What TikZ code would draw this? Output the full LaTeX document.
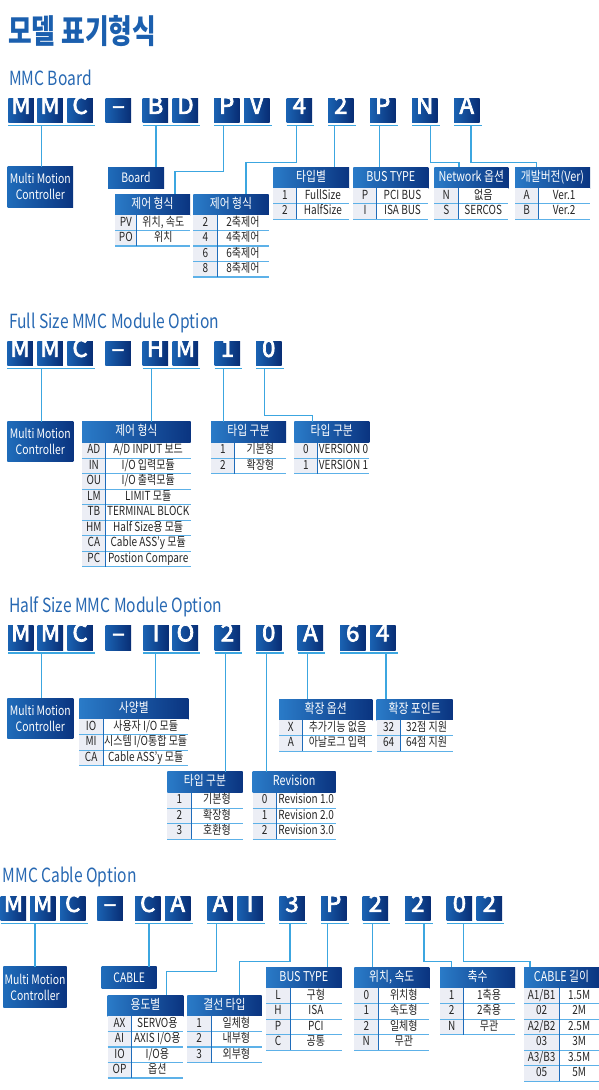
\documentclass[tikz,border=0pt]{standalone}
\usepackage{fontspec}
\setmainfont{Noto Sans CJK KR}[FakeStretch=0.8]
\newfontfamily\letterfont{Noto Sans CJK KR}[FakeBold=3]
\newfontfamily\titlefont{Noto Sans CJK KR}[FakeStretch=0.78]
\newfontfamily\secfont{Noto Sans CJK KR}[FakeStretch=0.8]
\usetikzlibrary{calc}

\begin{document}
\begin{tikzpicture}[
    x=1pt, y=-1pt,
    letter/.style={anchor=north west, minimum width=25.5pt, minimum height=24.5pt,
        inner sep=0pt, outer sep=0pt, left color=letterlight, right color=letterdark,
        text=white, font=\letterfont\fontsize{24}{24}\selectfont,
        text height=0.72em, text depth=0pt},
    unit/.style={anchor=north west, inner sep=0pt, outer sep=0pt, align=center,
        left color=boxlight, right color=boxdark, text=white,
        font=\fontsize{13}{16}\selectfont},
    thead/.style={anchor=north west, minimum height=21pt, inner sep=0pt, outer sep=0pt,
        left color=headlight, right color=boxdark, text=white,
        font=\fontsize{13.5}{14}\selectfont, text height=0.8em, text depth=0.1em},
    tkey/.style={anchor=north west, minimum height=15.5pt, inner sep=0pt, outer sep=0pt,
        fill=keygray, text=inkgray, font=\fontsize{12.5}{13}\selectfont,
        text height=0.78em, text depth=0.1em},
    tval/.style={tkey, fill=white},
    sectitle/.style={anchor=base west, inner sep=0pt, text=headblue,
        font=\secfont\fontsize{19.5}{21}\selectfont},
    underline/.style={linkblue, line width=1.4pt},
    link/.style={linkblue, line width=1.4pt},
    rowline/.style={rowblue, line width=1.3pt},
    colline/.style={boxlight, line width=0.9pt}
]

% -------------------------------------------------
% Palette
% -------------------------------------------------
\definecolor{boxlight}{HTML}{1F6CBA}
\definecolor{headlight}{HTML}{2A7BC8}
\definecolor{boxdark}{HTML}{0A3480}
\definecolor{letterlight}{HTML}{1A62B2}
\definecolor{letterdark}{HTML}{082D74}
\definecolor{linkblue}{HTML}{3CA6E0}
\definecolor{rowblue}{HTML}{5DB1E8}
\definecolor{keygray}{HTML}{ECEEF5}
\definecolor{inkgray}{HTML}{262626}
\definecolor{titleblue}{HTML}{1B5FAE}
\definecolor{headblue}{HTML}{2768B2}

\useasboundingbox (0,0) rectangle (599,1090);

% table: name, x, y, width, key width, header, rows
\def\spectable#1#2#3#4#5#6#7{%
    \node[thead, minimum width=#4pt] (#1) at (#2,#3) {#6};
    \foreach \kk/\vv [count=\i] in {#7} {
        \node[tkey, minimum width=#5pt] (#1k\i)
            at ($(#1.south west)+(0,{(\i-1)*15.5})$) {\kk};
        \node[tval, minimum width=#4pt-#5pt] (#1v\i) at (#1k\i.north east) {\vv};
    }
    \foreach \kk/\vv [count=\i] in {#7} {
        \draw[rowline] (#1k\i.south west) -- (#1v\i.south east);
        \draw[colline] (#1k\i.north east) -- (#1k\i.south east);
    }
}

% -------------------------------------------------
% MMC Board
% -------------------------------------------------
\node[anchor=base west, inner sep=0pt, text=titleblue,
    font=\titlefont\bfseries\fontsize{33}{35}\selectfont] (title) at (8,43) {모델 표기형식};
\node[sectitle] (s1) at (9,85) {MMC Board};

\foreach \x/\ltr [count=\i] in {8.3/M,37.3/M,67.3/C,105.7/–,142.7/B,172.7/D,214/P,244/V,
        286.7/4,328/2,370/P,412/N,454/A}
    \node[letter] (a\i) at (\x,98) {\ltr};
\foreach \p/\q in {1/3,5/6,7/8,9/9,10/10,11/11,12/12,13/13}
    \draw[underline] ([yshift=-2.8pt]a\p.south west) -- ([xshift=2pt,yshift=-2.8pt]a\q.south east);

\coordinate (d1a) at (41.7,125.3);
\coordinate (d1b) at (156,125.3);
\coordinate (d1c) at (223.3,125.3);
\coordinate (d1d) at (296.7,125.3);
\coordinate (d1e) at (334.3,125.3);
\coordinate (d1f) at (379.3,125.3);
\coordinate (d1g) at (430.7,125.3);
\coordinate (d1h) at (471,125.3);

\node[unit, minimum width=65.3pt, minimum height=40.3pt] (ctl1) at (7.7,166.7) {Multi Motion\\Controller};
\node[unit, minimum width=56pt, minimum height=21.3pt] (brd) at (108,167) {Board};

\spectable{t1a}{115}{194}{75}{21.7}{제어 형식}{PV/{위치, 속도},PO/위치}
\spectable{t1b}{193.3}{194}{75.4}{24}{제어 형식}{2/2축제어,4/4축제어,6/6축제어,8/8축제어}
\spectable{t1c}{273.3}{167.3}{75.7}{23.4}{타입별}{1/FullSize,2/HalfSize}
\spectable{t1d}{353.3}{167.3}{75}{23.4}{BUS TYPE}{P/PCI BUS,I/ISA BUS}
\spectable{t1e}{434.3}{167.3}{74}{24}{Network 옵션}{N/없음,S/SERCOS}
\spectable{t1f}{515}{167.3}{75}{23.3}{개발버전(Ver)}{A/Ver.1,B/Ver.2}

\draw[link] (d1a) -- (d1a |- ctl1.north);
\draw[link] (d1b) -- (d1b |- brd.north);
\draw[link] (d1c) -- ++(0,46.4) -| ([xshift=60pt]t1a.north west);
\draw[link] (d1d) -- ++(0,37) -| ([xshift=52.7pt]t1b.north west);
\draw[link] (d1e) -- (d1e |- t1c.north);
\draw[link] (d1f) -- (d1f |- t1d.north);
\draw[link] (d1g) -- ++(0,37) -| ([xshift=24.7pt]t1e.north west);
\draw[link] (d1h) -- ++(0,37) -| ([xshift=21.7pt]t1f.north west);

% -------------------------------------------------
% Full Size MMC Module Option
% -------------------------------------------------
\node[sectitle] (s2) at (9,328.3) {Full Size MMC Module Option};

\foreach \x/\ltr [count=\i] in {7.3/M,37.3/M,67.3/C,105.3/–,142.7/H,172.7/M,214.7/1,256/0}
    \node[letter] (b\i) at (\x,341) {\ltr};
\foreach \p/\q in {1/3,5/6,7/7,8/8}
    \draw[underline] ([yshift=-2.8pt]b\p.south west) -- ([xshift=2pt,yshift=-2.8pt]b\q.south east);

\coordinate (d2a) at (41.7,368.3);
\coordinate (d2b) at (151.7,368.3);
\coordinate (d2c) at (223.3,368.3);
\coordinate (d2d) at (264.3,368.3);

\node[unit, minimum width=66pt, minimum height=40pt] (ctl2) at (7.3,421.7) {Multi Motion\\Controller};

\spectable{t2a}{82}{421.7}{108.7}{23.7}{제어 형식}{AD/{A/D INPUT 보드},IN/{I/O 입력모듈},
    OU/{I/O 출력모듈},LM/LIMIT 모듈,TB/TERMINAL BLOCK,HM/Half Size용 모듈,
    CA/Cable ASS’y 모듈,PC/Postion Compare}
\spectable{t2b}{211}{421.7}{75}{23.7}{타입 구분}{1/기본형,2/확장형}
\spectable{t2c}{294.3}{421.7}{75}{23.4}{타입 구분}{0/VERSION 0,1/VERSION 1}

\draw[link] (d2a) -- (d2a |- ctl2.north);
\draw[link] (d2b) -- (d2b |- t2a.north);
\draw[link] (d2c) -- (d2c |- t2b.north);
\draw[link] (d2d) -- ++(0,47.4) -| ([xshift=18pt]t2c.north west);

% -------------------------------------------------
% Half Size MMC Module Option
% -------------------------------------------------
\node[sectitle] (s3) at (9,612.7) {Half Size MMC Module Option};

\foreach \x/\ltr [count=\i] in {8/M,37.7/M,67.3/C,105.7/–,143.3/I,172.7/O,214.7/2,256/0,
        297.7/A,340/6,370/4}
    \node[letter] (c\i) at (\x,625.5) {\ltr};
\foreach \p/\q in {1/3,5/6,7/7,8/8,9/9,10/11}
    \draw[underline] ([yshift=-2.8pt]c\p.south west) -- ([xshift=2pt,yshift=-2.8pt]c\q.south east);

\coordinate (d3a) at (41.7,652.8);
\coordinate (d3b) at (155.7,652.8);
\coordinate (d3c) at (225.7,652.8);
\coordinate (d3d) at (266.7,652.8);
\coordinate (d3e) at (307.3,652.8);
\coordinate (d3f) at (386,652.8);

\node[unit, minimum width=66pt, minimum height=40.3pt] (ctl3) at (7.3,698.3) {Multi Motion\\Controller};

\spectable{t3a}{79.3}{698.3}{109}{23.7}{사양별}{IO/{사용자 I/O 모듈},MI/{시스템 I/O통합 모듈},
    CA/Cable ASS’y 모듈}
\spectable{t3b}{167.3}{771.7}{75.4}{24}{타입 구분}{1/기본형,2/확장형,3/호환형}
\spectable{t3c}{252.7}{771.7}{83}{24}{Revision}{0/Revision 1.0,1/Revision 2.0,2/Revision 3.0}
\spectable{t3d}{279}{699.3}{93.3}{23.7}{확장 옵션}{X/추가기능 없음,A/아날로그 입력}
\spectable{t3e}{376.7}{699.3}{76}{23.7}{확장 포인트}{32/32점 지원,64/64점 지원}

\draw[link] (d3a) -- (d3a |- ctl3.north);
\draw[link] (d3b) -- (d3b |- t3a.north);
\draw[link] (d3c) -- (d3c |- t3b.north);
\draw[link] (d3d) -- (d3d |- t3c.north);
\draw[link] (d3e) -- (d3e |- t3d.north);
\draw[link] (d3f) -- (d3f |- t3e.north);

% -------------------------------------------------
% MMC Cable Option
% -------------------------------------------------
\node[sectitle] (s4) at (2.5,882.7) {MMC Cable Option};

\foreach \x/\ltr [count=\i] in {0.7/M,30/M,60/C,97.3/–,135/C,165/A,207.3/A,237.3/I,
        279.3/3,321/P,362.7/2,405/2,446.7/0,476.7/2}
    \node[letter] (e\i) at (\x,896) {\ltr};
\foreach \p/\q in {1/3,5/6,7/8,9/9,10/10,11/11,12/12,13/14}
    \draw[underline] ([yshift=-2.8pt]e\p.south west) -- ([xshift=2pt,yshift=-2.8pt]e\q.south east);

\coordinate (d4a) at (35,923.3);
\coordinate (d4b) at (149,923.3);
\coordinate (d4c) at (216.7,923.3);
\coordinate (d4d) at (290,923.3);
\coordinate (d4e) at (327.7,923.3);
\coordinate (d4f) at (372.3,923.3);
\coordinate (d4g) at (424,923.3);
\coordinate (d4h) at (463.3,923.3);

\node[unit, minimum width=63.4pt, minimum height=40.6pt] (ctl4) at (3.3,966.7) {Multi Motion\\Controller};
\node[unit, minimum width=55pt, minimum height=21.6pt] (cbl) at (101.7,966.7) {CABLE};

\spectable{t4a}{107.7}{995}{75.6}{23.6}{용도별}{AX/SERVO용,AI/{AXIS I/O용},IO/{I/O용},OP/옵션}
\spectable{t4b}{187.3}{995}{74.4}{23.7}{결선 타입}{1/일체형,2/내부형,3/외부형}
\spectable{t4c}{266}{967.3}{75.7}{24}{BUS TYPE}{L/구형,H/ISA,P/PCI,C/공통}
\spectable{t4d}{354.3}{967.3}{75}{24}{위치, 속도}{0/위치형,1/속도형,2/일체형,N/무관}
\spectable{t4e}{440}{967.3}{75}{23.3}{축수}{1/1축용,2/2축용,N/무관}
\spectable{t4f}{524}{967.3}{75}{35.3}{CABLE 길이}{{A1/B1}/1.5M,02/2M,{A2/B2}/2.5M,03/3M,
    {A3/B3}/3.5M,05/5M}

\draw[link] (d4a) -- (d4a |- ctl4.north);
\draw[link] (d4b) -- (d4b |- cbl.north);
\draw[link] (d4c) -- ++(0,48.4) -| ([xshift=59pt]t4a.north west);
\draw[link] (d4d) -- ++(0,38.4) -| ([xshift=52pt]t4b.north west);
\draw[link] (d4e) -- (d4e |- t4c.north);
\draw[link] (d4f) -- (d4f |- t4d.north);
\draw[link] (d4g) -- ++(0,38.4) -| ([xshift=11.7pt]t4e.north west);
\draw[link] (d4h) -- ++(0,38.4) -| ([xshift=6pt]t4f.north west);

\end{tikzpicture}
\end{document}
